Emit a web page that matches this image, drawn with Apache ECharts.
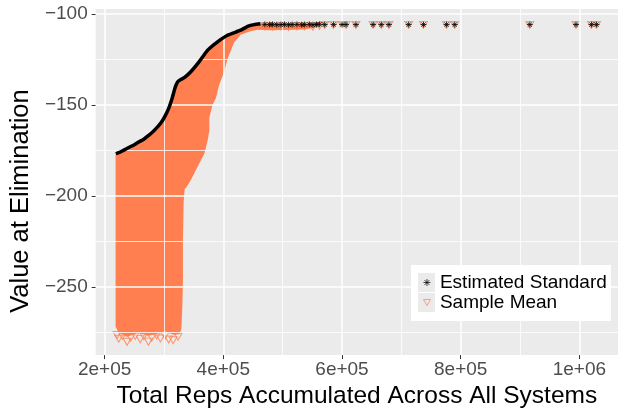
<!DOCTYPE html>
<html><head><meta charset="utf-8">
<script src="https://cdn.jsdelivr.net/npm/echarts@6/dist/echarts.min.js"></script>
<style>html,body{margin:0;padding:0;background:#fff}#c{width:618px;height:414px}</style>
</head><body><div id="c"></div>
<script>
// ---- axis ticks ----
const xTicks = [200000, 400000, 600000, 800000, 1000000];
const xTickLabels = ['2e+05', '4e+05', '6e+05', '8e+05', '1e+06'];
const xMinor = [300000, 500000, 700000, 900000];
const yTicks = [-100, -150, -200, -250];
const yTickLabels = ['\u2212100', '\u2212150', '\u2212200', '\u2212250'];
const yMinor = [-125, -175, -225, -275];

// ---- Estimated Standard: dense upper envelope ----
const stdCurveX = [219000, 229000, 240500, 250000, 257100, 266000, 273800, 281000, 287700, 295000, 301600, 308000, 313700, 318200, 321000, 323700, 329000, 334900, 346000, 359800, 373700, 390300, 407000, 429300, 443100, 462600];
const stdCurveY = [-176.8, -175.4, -173.4, -171.8, -170.4, -168.8, -166.8, -164.8, -162.6, -159.8, -156.2, -151.8, -146.4, -141.0, -138.6, -137.0, -135.8, -134.8, -131.4, -126.0, -119.8, -115.2, -111.6, -108.8, -106.4, -105.3];
// ---- Estimated Standard: separate points on the plateau ----
const stdPtsX = [470000, 478000, 483000, 490000, 497000, 503000, 510000, 516000, 524000, 532000, 537000, 545000, 551000, 557000, 562000, 570800, 585800, 600100, 606800, 623400, 652400, 666200, 679000, 712300, 737300, 776100, 789900, 916400, 994200, 1020300, 1028700];
const stdPtsY = [-105.6, -105.7, -105.6, -105.8, -105.7, -105.6, -105.8, -105.7, -105.6, -105.8, -105.7, -105.6, -105.8, -105.7, -105.6, -105.7, -105.7, -105.7, -105.7, -105.7, -105.7, -105.7, -105.7, -105.7, -105.7, -105.7, -105.7, -105.7, -105.7, -105.7, -105.7];

// ---- Sample Mean: outline of the dense cloud ----
const cloudX = [218500, 229000, 240500, 250000, 257100, 266000, 273800, 281000, 287700, 295000, 301600, 308000, 313700, 318200, 321000, 323700, 329000, 334900, 346000, 359800, 373700, 390300, 407000, 429300, 443100, 462600, 500000, 556000,
  556000, 534700, 479200, 456900, 443000, 429300, 418100, 407000, 401500, 393100, 387600, 382000, 376500, 376500, 373700, 368200, 362700, 354300, 346000, 337700, 334900, 333200, 332000, 332000, 331000, 329300, 326500,
  318000, 312700, 301600, 287700, 273800, 257100, 237800, 223800, 218500];
const cloudY = [-176.8, -175.4, -173.4, -171.8, -170.4, -168.8, -166.8, -164.8, -162.6, -159.8, -156.2, -151.8, -146.4, -141.0, -138.6, -137.0, -135.8, -134.8, -131.4, -126.0, -119.8, -115.2, -111.6, -108.8, -106.4, -105.3, -105.6, -105.6,
  -107.5, -108.4, -108.8, -108.6, -109.6, -111.3, -115.6, -124.6, -131.7, -138.9, -146.1, -149.7, -156.8, -164.0, -169.4, -176.6, -180.1, -185.5, -190.9, -195.4, -196.2, -203.4, -224.9, -246.5, -260.8, -273.3, -276.0,
  -276.5, -276.0, -274.5, -276.0, -277.0, -275.5, -277.5, -275.5, -272.0];
// ---- Sample Mean: separate points (bottom edge and plateau) ----
const meanPtsX = [221000, 223800, 230000, 237800, 244000, 251600, 260000, 266000, 273800, 279400, 287700, 294000, 301600, 308000, 315400, 323700,
  470000, 483000, 497000, 510000, 524000, 537000, 551000, 562000, 570800, 585800, 600100, 606800, 623400, 652400, 666200, 679000, 712300, 737300, 776100, 789900, 916400, 994200, 1020300, 1028700];
const meanPtsY = [-276.5, -278.6, -277.0, -280.3, -278.0, -277.0, -278.8, -277.2, -280.2, -278.0, -276.8, -278.5, -277.0, -279.0, -279.4, -277.5,
  -106.8, -106.9, -106.7, -107.0, -106.8, -106.7, -106.9, -106.5, -105.9, -105.9, -105.9, -105.9, -105.9, -105.9, -105.9, -105.9, -105.9, -105.9, -105.9, -105.9, -105.9, -105.9, -105.9, -105.9];

const ORANGE = '#FF7F50';
const FONT = 'Liberation Sans';
const asterisk = 'path://M5,0L5,10M0,5L10,5M1.5,1.5L8.5,8.5M8.5,1.5L1.5,8.5';
const triDown = 'path://M0,0L10,0L5,8.66Z';

const chart = echarts.init(document.getElementById('c'), null, {renderer: 'canvas'});
const zip = (a, b) => a.map((v, i) => [v, b[i]]);

chart.setOption({
  animation: false,
  backgroundColor: '#ffffff',
  textStyle: {fontFamily: FONT},
  grid: {left: 90, top: 9, width: 528, height: 354.3, show: true, backgroundColor: '#EBEBEB', borderWidth: 0},
  xAxis: {
    type: 'value', min: 185000, max: 1065000,
    axisLine: {show: false},
    axisTick: {show: true, length: 4, lineStyle: {color: '#333333', width: 1}, customValues: xTicks},
    axisLabel: {customValues: xTicks, margin: 5, color: '#4D4D4D', fontSize: 19, fontFamily: FONT,
      formatter: v => xTickLabels[xTicks.indexOf(v)] ?? ''},
    splitLine: {show: false},
    name: 'Total Reps Accumulated Across All Systems', nameLocation: 'middle', nameGap: 25,
    nameTextStyle: {fontSize: 24.5, color: '#000', fontFamily: FONT}
  },
  yAxis: {
    type: 'value', min: -287.6, max: -97.15,
    axisLine: {show: false},
    axisTick: {show: true, length: 4, lineStyle: {color: '#333333', width: 1}, customValues: yTicks},
    axisLabel: {customValues: yTicks, margin: 8, color: '#4D4D4D', fontSize: 19, fontFamily: FONT,
      formatter: v => yTickLabels[yTicks.indexOf(v)] ?? ''},
    splitLine: {show: false},
    name: 'Value at Elimination', nameLocation: 'middle', nameGap: 49, nameRotate: 90,
    nameTextStyle: {fontSize: 25.5, color: '#000', fontFamily: FONT, align: 'center', verticalAlign: 'bottom', padding: [0, 38, 0, 0]}
  },
  legend: {
    z: 60,
    orient: 'vertical', left: 423, top: 272.5, padding: 0, itemGap: 0,
    itemWidth: 7, itemHeight: 7,
    textStyle: {fontSize: 19, color: '#000', fontFamily: FONT, lineHeight: 20, padding: [0, 0, 0, 4.5]},
    data: [
      {name: 'Estimated Standard', icon: asterisk, itemStyle: {color: '#000', borderColor: '#000', borderWidth: 0.9}},
      {name: 'Sample Mean', icon: triDown, itemStyle: {color: 'rgba(0,0,0,0)', borderColor: ORANGE, borderWidth: 0.9}}
    ]
  },
  graphic: [
    {type: 'rect', z: 50, shape: {x: 411, y: 265, width: 200, height: 56}, style: {fill: '#ffffff'}},
    {type: 'rect', z: 51, shape: {x: 418, y: 273, width: 17, height: 19}, style: {fill: '#EBEBEB'}},
    {type: 'rect', z: 51, shape: {x: 418, y: 293, width: 17, height: 19}, style: {fill: '#EBEBEB'}}
  ],
  series: [
    { // grid lines
      type: 'line', data: [], z: 1, silent: true,
      markLine: {
        silent: true, symbol: 'none', label: {show: false}, animation: false,
        data: [
          ...xMinor.map(v => ({xAxis: v, lineStyle: {color: '#ffffff', width: 0.8, type: 'solid'}})),
          ...yMinor.map(v => ({yAxis: v, lineStyle: {color: '#ffffff', width: 0.8, type: 'solid'}})),
          ...xTicks.map(v => ({xAxis: v, lineStyle: {color: '#ffffff', width: 1.5, type: 'solid'}})),
          ...yTicks.map(v => ({yAxis: v, lineStyle: {color: '#ffffff', width: 1.5, type: 'solid'}}))
        ]
      }
    },
    { // dense cloud of sample means
      type: 'custom', z: 3, silent: true,
      data: zip(cloudX, cloudY),
      renderItem: (params, api) => {
        if (params.dataIndex !== 0) return null;
        const pts = cloudX.map((x, i) => api.coord([x, cloudY[i]]));
        return {type: 'polygon', shape: {points: pts}, style: {fill: ORANGE}};
      }
    },
    {
      name: 'Sample Mean', type: 'scatter', z: 4,
      symbol: triDown, symbolSize: [8, 7],
      itemStyle: {color: 'rgba(0,0,0,0)', borderColor: ORANGE, borderWidth: 1},
      data: zip(meanPtsX, meanPtsY)
    },
    { // continuous run of estimated standards
      type: 'line', z: 5, silent: true, showSymbol: false, smooth: 0.2,
      lineStyle: {color: '#000', width: 3.5},
      data: zip(stdCurveX, stdCurveY)
    },
    {
      name: 'Estimated Standard', type: 'scatter', z: 6,
      symbol: asterisk, symbolSize: 6,
      itemStyle: {color: '#000', borderColor: '#000', borderWidth: 1},
      data: zip(stdPtsX, stdPtsY)
    }
  ]
});
</script></body></html>
